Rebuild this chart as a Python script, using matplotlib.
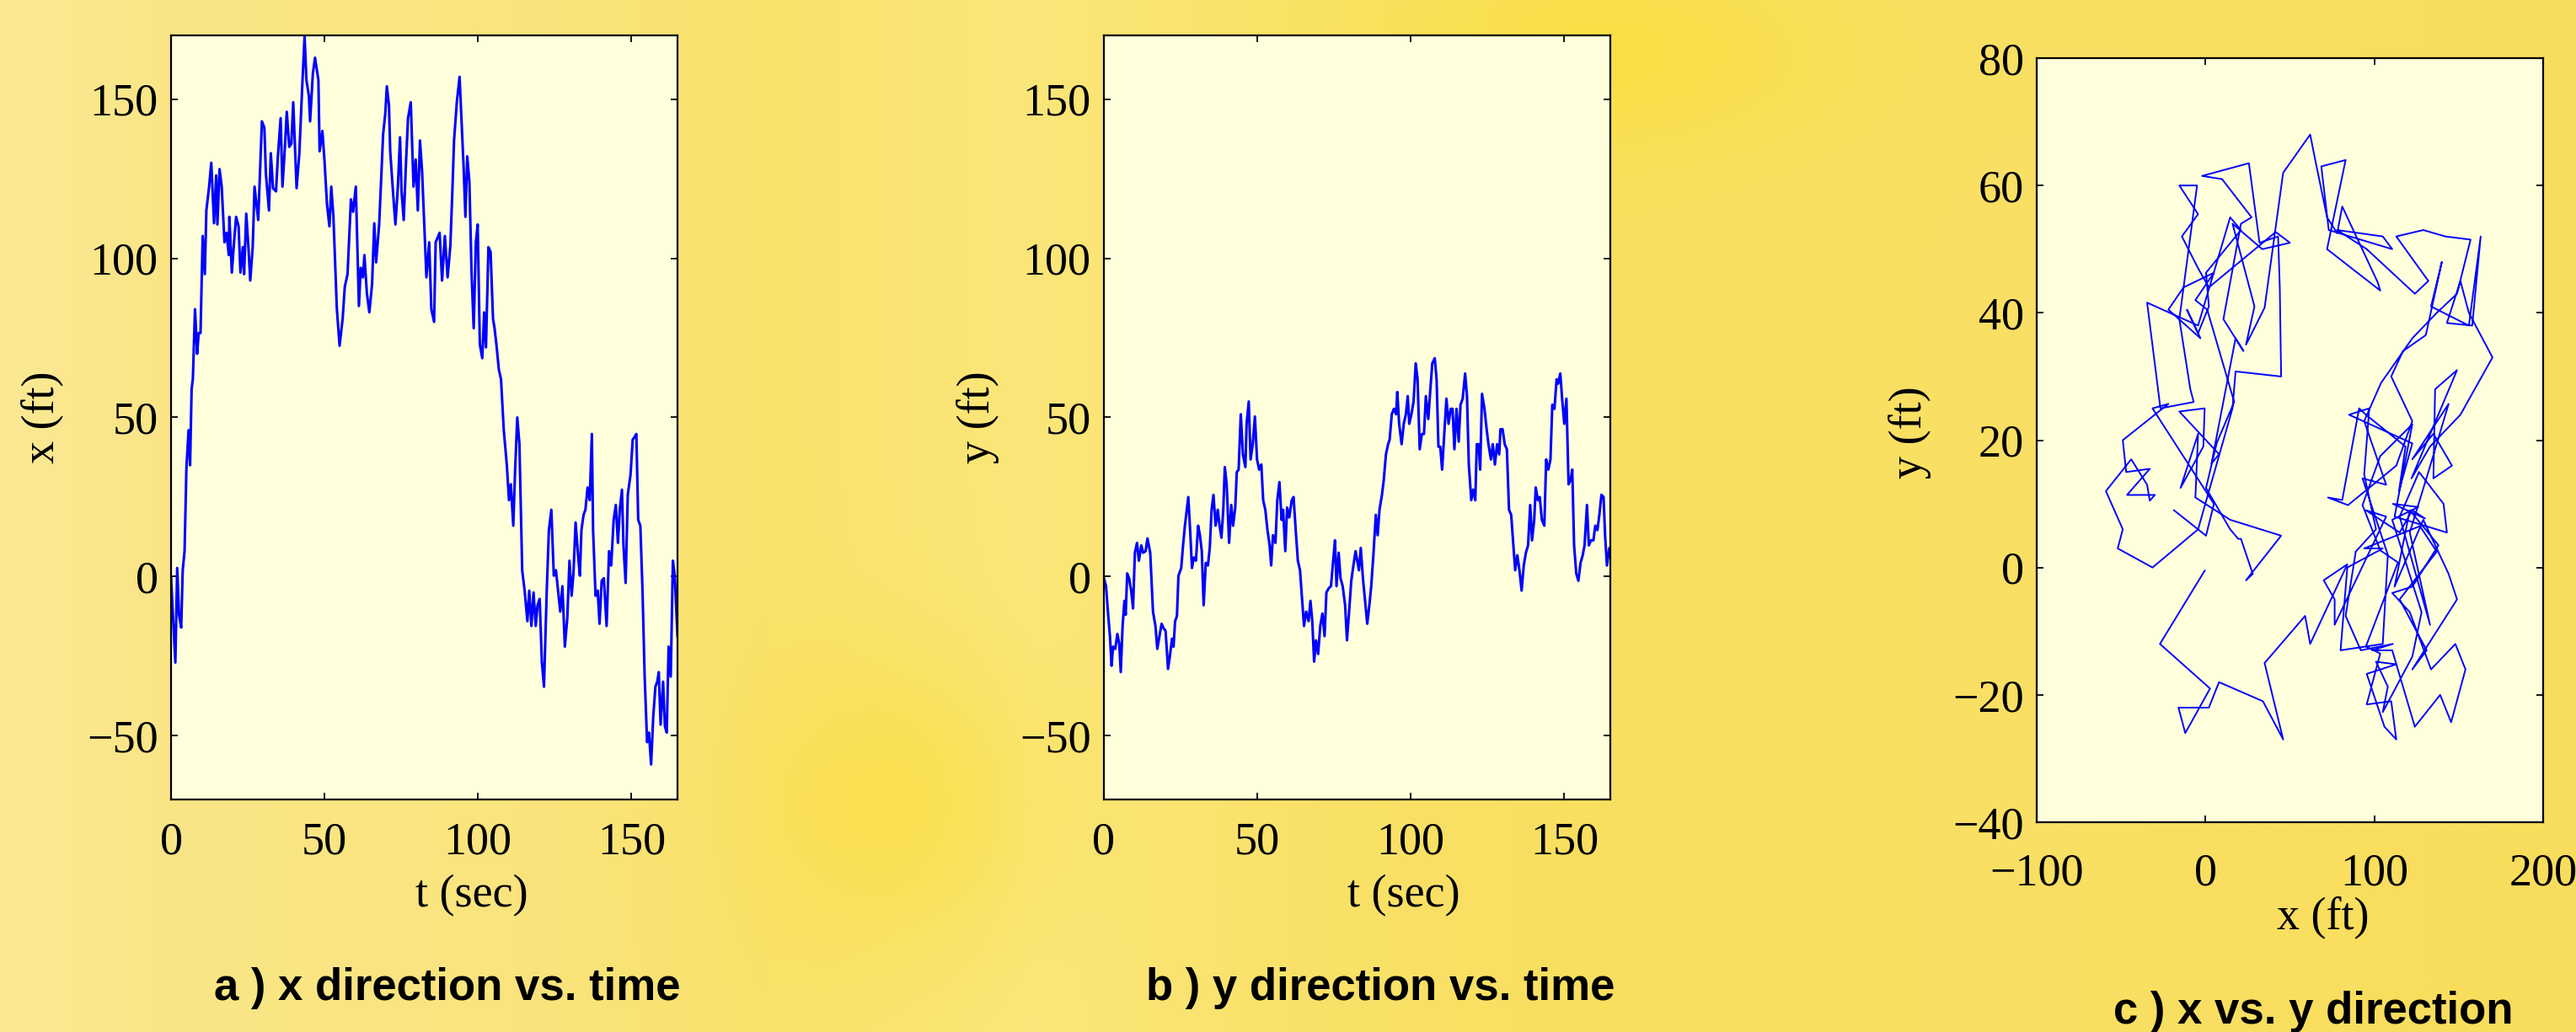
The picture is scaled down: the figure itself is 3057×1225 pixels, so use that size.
import numpy as np
import matplotlib
matplotlib.use("Agg")
import matplotlib.pyplot as plt

plt.rcParams['font.family'] = ['Liberation Serif', 'DejaVu Serif']

# ---- data (random walk) ----
# panel a: x position vs time; y_at_ta = y position at the same instants (for panel c)
t_a = [0, 1.4, 2, 2.6, 3.3, 3.8, 4.4, 5, 5.7, 6.2,
       6.7, 7.1, 7.8, 8.5, 9, 9.6, 10.3, 11, 11.5, 12.4,
       13.1, 14, 14.7, 15.1, 15.8, 16.5, 17.4, 18.1, 18.8, 19,
       19.8, 20.6, 21.2, 22, 22.6, 23.4, 23.8, 24.5, 25.2, 25.8,
       26.6, 27.2, 28.4, 29.6, 30.4, 30.9, 31.9, 32.5, 33.2, 34.2,
       34.8, 35.7, 36.3, 37.1, 37.7, 38.5, 39.2, 39.8, 40.9, 41.8,
       42.6, 43.5, 44.1, 44.9, 45.3, 46.2, 46.9, 48, 48.4, 49.3,
       50, 50.8, 51.6, 52.2, 52.9, 54, 54.9, 55.9, 56.6, 57.5,
       58.6, 59.3, 60.2, 61.2, 61.8, 62.5, 63, 63.8, 64.6, 65.5,
       66.2, 66.8, 67.8, 68.4, 69.1, 69.8, 70.3, 71, 71.4, 72.3,
       73.1, 73.9, 74.6, 75.1, 75.8, 76.5, 77.2, 78.1, 79, 79.7,
       80.4, 81.1, 81.8,
       83.2, 84.1, 84.8, 85.7, 86.2, 87.5, 88.3, 89.2, 90.1, 91,
       91.7, 92.2, 93.1, 94, 94.7, 95.3, 95.9, 96.5, 97.2, 97.9,
       98.6, 99.3, 99.9, 100.6, 101.4, 102, 102.6, 103.4, 104.1, 104.9,
       105.4, 106.1, 106.8, 107.5, 108.4, 109.4, 110.1, 110.7, 111.5, 112.1,
       112.8, 113.5, 114.4, 115.2, 116.1, 116.7, 117.4, 118.1, 118.8, 119.4,
       120.1, 120.8, 121.5, 122.4, 123.1, 123.9, 124.7, 125.4, 126.1, 126.8,
       127.5, 128.3, 129.1, 129.8, 130.5, 131.1, 131.8, 132.6, 133.2, 133.7,
       134.4, 135, 135.7, 136.4, 137.1, 137.5, 138.3, 139, 139.6, 140.3,
       141, 141.9, 142.7, 143.4, 144.2, 144.9, 145.6, 146.2, 146.9, 147.4,
       148.1, 148.8, 149.7, 150.4, 151.1, 151.6, 152.2, 152.9, 153.6, 154.3,
       155.1, 155.7, 156.4, 157.1, 157.8, 158.4, 158.9, 159.5, 160.3, 160.9,
       161.5, 162.1, 162.8, 163.5, 164.1, 165]

x_a = [-0.5, -27, 2.7, -12, -16, 2, 8, 34, 46, 35,
       59, 62, 84, 70, 76.5, 76.5, 107, 95, 115, 122.5,
       130, 111, 126, 110.6, 128, 122.5, 105, 108, 101, 113,
       95.5, 106, 113, 110, 95.5, 103.5, 95, 114, 103.5, 93,
       103.5, 122.5, 112, 143, 141, 126.5, 115, 133, 122, 121,
       132, 144, 122.5, 135, 146, 135, 136, 149, 122, 133,
       151, 170, 156, 151, 143, 158, 163, 156, 133.6, 140,
       130.5, 117, 110, 122.5, 113, 84.4, 72.5, 81, 91, 95,
       118.5, 114.6, 122.5, 85, 97, 94, 101, 89, 83, 92,
       111, 98.7, 110.6, 124, 139, 145.5, 154, 148, 133.6, 121,
       110.6, 122.5, 138, 121, 112, 129, 144, 149, 122.5, 131,
       115, 137, 127,
       94, 105, 84, 80, 105, 108, 93, 107, 94, 104,
       122.5, 137, 149, 157, 142, 129, 113, 132, 124, 95.5,
       78, 105, 110.6, 73, 68.6, 83, 72, 103.5, 102, 81,
       78, 72, 65, 62, 46, 35, 24, 29, 16, 33.6,
       50, 41.6, 2, -4.4, -14, -4.4, -15.5, -5, -15.5, -9,
       -7, -26.7, -34.6, -4.4, 14.6, 21, 0.3, 2, -4.4, -11,
       -3, -22, -13, 5, -6, 1, 17, 6.7, 0.3, 14.6,
       19.4, 21, 28, 24, 44.8, 14.6, -6, -4.4, -14.8, -1.3,
       -0.5, -15.5, 8, 3.5, 17.8, 22.5, 10.6, 21, 27.3, 9.8,
       -2, 25.7, 32, 43, 44, 44.8, 17.8, 16, -4.4, -31.4,
       -52, -49, -59, -44, -34.6, -33, -30, -46.5, -33, -47,
       -49, -22, -31.4, 5, 0.3, -18.7]

y_at_ta = [-0.5, -12, -19, -26, -22, -22, -18, -21, -27, -15,
           -7.6, -12, 0.5, -2, -5, -9, 8, 9, 5.5, 9,
           7.7, 10, 9.5, 7.5, -7, -14, -22.7, -18.7, -14.8, -15.2,
           -16.7, -25, -27, -21, -21.5, -13.5, -12.4, 0.8, 2.7, 9.8,
           17.5, 22.5, 8, 5.5, 10, 15, 8, -9, 4.3, 5.5,
           15, 25.7, 17, 21, 16, 14, 28, 31, 14, 19,
           24, 33, 40, 45, 38.4, 38, 52, 38, 41, 48,
           36.5, 34, 30, 23, 16, 9.8, 11, 10.6, 25, 24,
           19, 12, 19.5, 24, 25, 14.6, 6, 2.5, -7.6, -13,
           -12, -13, -13, -25, -20, -24.3, -16, -12, -16, -7,
           -4, -3, 3.5, 9, -3, 7.5, -1, -5, -16, -13,
           -5, 2.5, 6.5,
           3, 3, 0, -13, -12, 2, 14, 13, 23, 29,
           36, 40, 43, 51.5, 52, 53, 52, 45, 43, 50,
           53, 52, 50, 53, 63, 64, 50, 43.5, 44.8, 56.7,
           52.5, 55, 64, 68, 62, 40.8, 35, 41, 54, 50,
           51, 52.7, 44, 47, 52, 55.5, 60, 60, 39, 28,
           26, 25, 41.6, 38, 55, 53, 46.3, 41, 36.8, 40.5,
           36, 40.5, 44, 46.3, 42, 40.5, 26, 19.6, 12.5, 6,
           4.5, 4.5, -1, -2, 5, 7.5, 11, 21, 12.5, 19,
           25, 24.5, 17.8, 16.3, 36, 34, 39, 54, 55, 61,
           61.5, 63.5, 51, 52, 44, 30, 30.8, 25, 6, 0,
           3, 6, 12, 17, 13, 10.5, 11.4, 11.4, 15.5, 15,
           20, 25.7, 25, 10, 5, 9]

# panel b: y position vs time
t_b = [0, 0.7, 1.4, 2, 2.5, 3, 3.7, 4.4, 5, 5.5,
       6.1, 6.7, 7.1, 7.6, 8.2, 8.9, 9.5, 10.1, 10.8, 11.4,
       12.2, 12.8, 13.6, 14.2, 15.1, 16, 16.8, 17.4, 18.1, 18.8,
       19.5, 20.1, 20.9, 21.5, 22.2, 22.7, 23.2, 23.8, 24.3, 25.2,
       25.8, 26.4, 27, 27.5, 28.1, 28.7, 29.3, 30, 30.7, 31.3,
       31.9, 32.5, 33.2, 33.9, 34.5, 35.1, 35.7, 36.4, 37.1, 37.7,
       38.3, 38.9, 39.4, 40, 40.8, 41.5, 42.1, 42.8, 43.3, 43.9,
       44.6, 45.3, 46.1, 46.5, 47.2, 47.8, 48.5, 49.2, 49.9, 50.6,
       51.3, 51.9, 52.6, 53.3, 54, 54.5, 55.1, 55.9, 56.5, 57.2,
       57.9, 58.4, 59.1, 59.7, 60.4, 61.2, 61.8, 62.5, 63.2, 63.9,
       64.6, 65.2, 65.9, 66.7, 67.3, 67.9, 68.5, 69.1, 69.8, 70.5,
       71.2, 71.9, 72.5, 73.3, 74, 74.7, 75.3, 75.8, 76.5, 77.1,
       77.8, 78.6, 79.2, 79.9, 80.6, 81.3, 82, 83.1, 83.7, 84.4,
       85.1, 85.8, 86.5, 87.1, 87.8, 88.6, 89.2, 89.8, 90.6, 91.2,
       91.9, 92.6, 93.1, 93.8, 94.5, 95.2, 95.6, 96.2, 97, 97.7,
       98.4, 99, 99.5, 100.2, 100.9, 101.6, 102.2, 102.9, 103.6, 104.3,
       104.9, 105.7, 106.3, 107, 107.8, 108.4, 109, 109.6, 110.2, 110.9,
       111.6, 112.3, 113, 113.6, 114.2, 114.9, 115.6, 116.2, 116.9, 117.7,
       118.3, 118.9, 119.7, 120.3, 121, 121.5, 122.1, 122.6, 123.2, 124,
       124.7, 125.3, 126.1, 126.7, 127.4, 128.1, 128.8, 129.2, 129.9, 130.6,
       131.3, 132, 132.7, 133.3, 134, 134.7, 135.4, 136.1, 136.8, 137.5,
       138.2, 138.9, 139.5, 140.2, 140.7, 141.4, 142, 142.7, 143.5, 144.1,
       144.8, 145.5, 146.1, 146.8, 147.5, 148, 148.7, 149.3, 150, 150.7,
       151.4, 152.1, 152.6, 153.2, 153.9, 154.6, 155.3, 156, 156.6, 157.4,
       158, 158.7, 159.5, 160.1, 160.8, 161.5, 162.1, 162.8, 163.3, 163.9,
       164.7, 165]

y_b = [-0.5, -3, -12, -19, -28, -22, -22.7, -18, -21, -30,
       -15.5, -7.6, -12, 1, -0.5, -4.4, -10, 7.5, 10.6, 5,
       9.8, 7.5, 8, 12, 7.5, -11, -15.5, -22.7, -18.7, -14.8,
       -16.3, -17, -29, -25, -19.5, -22, -14, -12.4, 0.3, 2.7,
       9.8, 16, 21, 25, 14.6, 2.7, 6, 5, 16, 13,
       8, -9, 4.3, 3.5, 9, 21, 25.7, 16, 21, 16,
       12.2, 21, 34.4, 29, 10.6, 22.5, 16, 21.7, 32.8, 33.6,
       51, 38.4, 34.4, 48, 55, 36.8, 41.6, 50.3, 36.8, 33.6,
       35.2, 24, 21, 14.6, 9.8, 3.5, 13, 10.6, 24, 29.7,
       17.8, 21, 8, 21.7, 18.6, 24, 25, 14.6, 5, 2,
       -7.6, -15.5, -11, -14, -7.6, -14, -26.7, -20, -24.3, -15.5,
       -11.6, -18.7, -5, -3.6, -3, 5, 11.4, -3, 7.5, -0.5,
       -3, -9, -20, -11, -1.3, 3.5, 8, 2, 9, -0.5,
       -7.6, -14.8, -9, -3, 6.7, 19.4, 13, 21, 25.7, 30.5,
       38.4, 41.6, 43, 51, 52.7, 51, 58, 48, 41.6, 48,
       51, 56.7, 48, 51, 55, 67, 62, 40, 44.8, 44.8,
       56.7, 49.5, 58, 67, 68.6, 62, 40.8, 40.8, 33.6, 44.8,
       55.9, 48, 52.7, 52.7, 40, 52.7, 42.4, 54, 55.9, 63.8,
       56.7, 35.2, 24, 27.3, 24, 41.6, 41.6, 33.6, 57.4, 52.7,
       46.3, 41.6, 36.8, 41.6, 35.2, 41.6, 38.4, 46.3, 46.3, 41.6,
       40, 21, 19.4, 11.4, 2, 6.7, 2, -4.4, 3.5, 7.5,
       9.8, 22.5, 11.4, 17.8, 28, 24, 25, 17.8, 16, 36.8,
       33.6, 36.8, 54, 52.7, 62, 60.6, 63.8, 55.9, 48, 55.9,
       29, 30.5, 33.6, 9.8, 1, -1.3, 4.3, 6.7, 9.8, 22.5,
       9.8, 11.4, 11.4, 16, 14.6, 20, 25.7, 25, 13, 3.5,
       9, 9]

time_ticks = [0, 50, 100, 150]
pos_ticks = [-50, 0, 50, 100, 150]
xc_ticks = [-100, 0, 100, 200]
yc_ticks = [-40, -20, 0, 20, 40, 60, 80]

captions = ['a ) x direction vs. time', 'b ) y direction vs. time', 'c ) x vs. y direction']

# ---- figure ----
W, H = 3057, 1225
fig = plt.figure(figsize=(W / 100, H / 100), dpi=100)

# yellow mottled background
bg = fig.add_axes([0, 0, 1, 1], zorder=-10)
xs = np.linspace(0, 1, 400)
ys = np.linspace(0, 1, 160)
stops = [0, 0.06, 0.2, 0.3, 0.4, 0.5, 0.62, 0.78, 1.0]
rr = [251, 250, 250, 250, 251, 250, 249, 249, 249]
gg = [233, 230, 228, 226, 230, 226, 223, 224, 221]
bb = [148, 135, 125, 108, 122, 106, 95, 100, 92]
img = np.zeros((len(ys), len(xs), 3))
for k, ch in enumerate([rr, gg, bb]):
    row = np.interp(xs, stops, ch)
    img[:, :, k] = row[None, :]
yy, xx = np.meshgrid(ys, xs, indexing='ij')
# extent is [0,1]x[0,1] with origin upper: row 0 is the top
spot1 = np.exp(-((xx - 0.35) ** 2 / 0.003 + (yy - 0.78) ** 2 / 0.02))
spot2 = np.exp(-((xx - 0.62) ** 2 / 0.01 + (yy - 0.05) ** 2 / 0.01))
img[:, :, 2] -= 35 * spot1 + 25 * spot2
img[:, :, 1] -= 4 * spot1
img = np.clip(img / 255.0, 0, 1)
bg.imshow(img, aspect='auto', extent=[0, 1, 0, 1], interpolation='bicubic')
bg.set_axis_off()

face = '#FFFFDC'
blue = '#0000FF'
fs = 39

def style(ax):
    ax.set_facecolor(face)
    for s in ax.spines.values():
        s.set_linewidth(1.6)
        s.set_color('black')
    ax.tick_params(which='both', direction='in', length=6, width=1.3,
                   top=True, right=True, labelsize=fs, colors='black')
    ax.tick_params(axis='x', pad=19)
    ax.tick_params(axis='y', pad=11)

aw, ah = 601 / W, 907 / H
ax_a = fig.add_axes([203 / W, 1 - 949 / H, aw, ah])
ax_b = fig.add_axes([1310 / W, 1 - 949 / H, aw, ah])
ax_c = fig.add_axes([2417 / W, 1 - 976 / H, aw, ah])

ax_a.plot(t_a, x_a, color=blue, lw=2.2)
ax_a.set_xlim(0, 165)
ax_a.set_ylim(-70, 170)
ax_a.set_xticks(time_ticks)
ax_a.set_yticks(pos_ticks)
ax_a.set_xlabel('t (sec)', fontsize=fs)
ax_a.set_ylabel('x (ft)', fontsize=fs)
style(ax_a)
ax_a.xaxis.set_label_coords(0.594, -0.098)
ax_a.yaxis.set_label_coords(-0.212, 0.5)

ax_b.plot(t_b, y_b, color=blue, lw=2.2)
ax_b.set_xlim(0, 165)
ax_b.set_ylim(-70, 170)
ax_b.set_xticks(time_ticks)
ax_b.set_yticks(pos_ticks)
ax_b.set_xlabel('t (sec)', fontsize=fs)
ax_b.set_ylabel('y (ft)', fontsize=fs)
style(ax_b)
ax_b.xaxis.set_label_coords(0.592, -0.098)
ax_b.yaxis.set_label_coords(-0.206, 0.5)

ax_c.plot(x_a, y_at_ta, color=blue, lw=1.4)
ax_c.set_xlim(-100, 200)
ax_c.set_ylim(-40, 80)
ax_c.set_xticks(xc_ticks)
ax_c.set_yticks(yc_ticks)
ax_c.set_xlabel('x (ft)', fontsize=fs)
ax_c.set_ylabel('y (ft)', fontsize=fs)
style(ax_c)
ax_c.tick_params(axis='x', pad=26)
ax_c.xaxis.set_label_coords(0.566, -0.096)
ax_c.yaxis.set_label_coords(-0.208, 0.51)

cap_x = [531, 1638, 2745]
cap_y = [1187, 1187, 1215]
for txt, cx, cy in zip(captions, cap_x, cap_y):
    fig.text(cx / W, 1 - cy / H, txt, ha='center', va='baseline',
             fontsize=38, fontweight='bold', family=['Liberation Sans', 'DejaVu Sans'])

fig.savefig('out.png', dpi=100)
